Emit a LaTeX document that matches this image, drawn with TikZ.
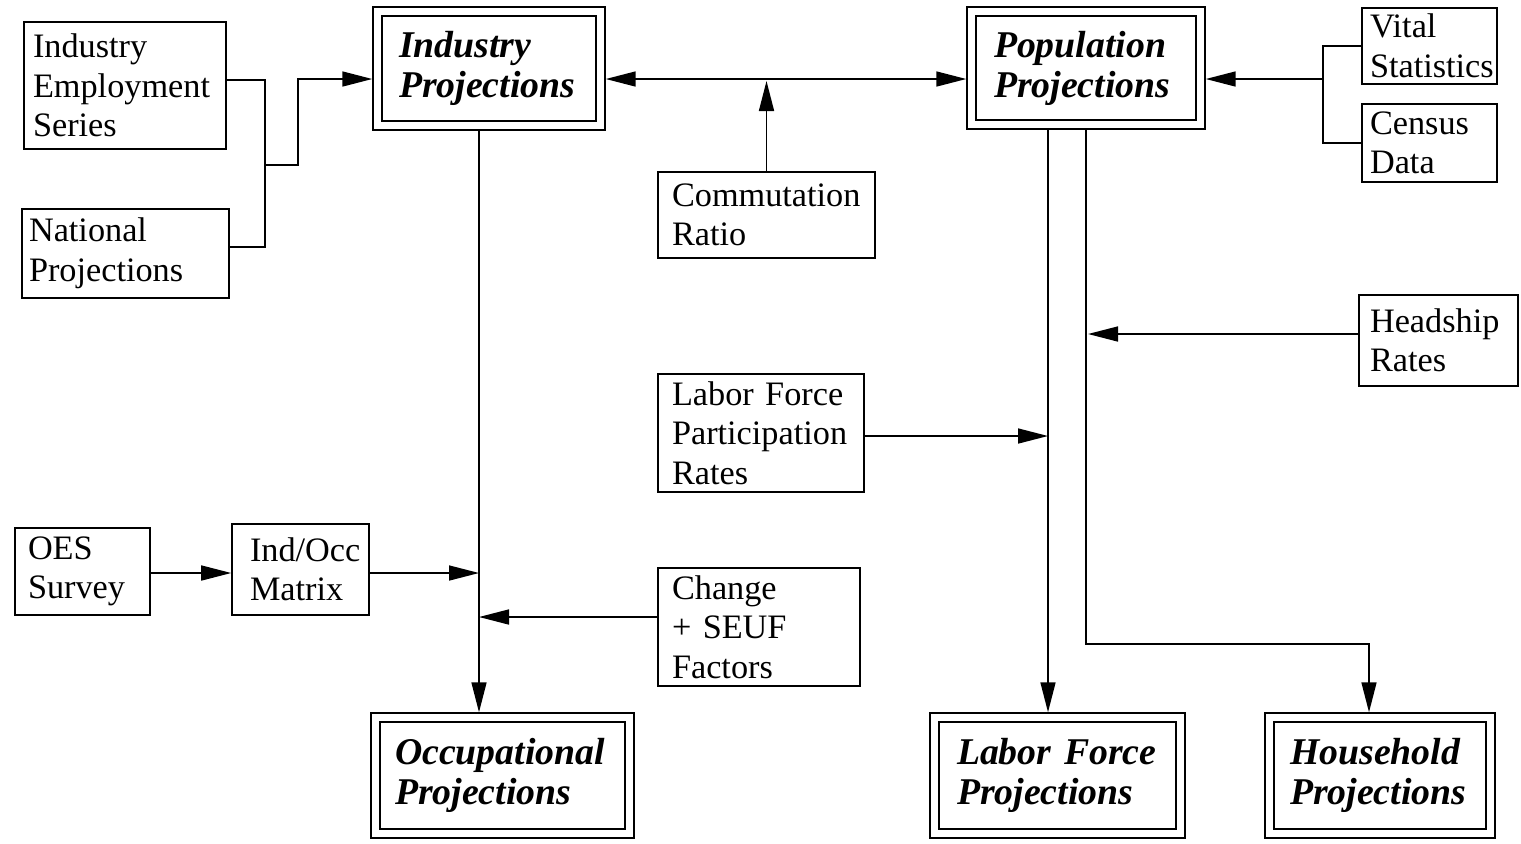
\documentclass[tikz,border=0pt]{standalone}
\usepackage{fontspec}
\setmainfont{Liberation Serif}
\usetikzlibrary{arrows.meta,calc}
\tikzset{
  lw/.style={line width=0.9pt},
  bx/.style={draw, lw, align=left, inner ysep=0pt, font=\fontsize{19.5}{22.5}\selectfont},
  dbx/.style={draw, lw, double, double distance=0.15cm, align=left, inner ysep=0pt, outer sep=0.105cm,
    font=\fontsize{21.5}{22.7}\selectfont\bfseries\itshape},
  arr/.style={lw, -{Triangle[length=0.6cm,width=0.3cm]}},
  arrb/.style={lw, {Triangle[length=0.6cm,width=0.3cm]}-{Triangle[length=0.6cm,width=0.3cm]}},
  ln/.style={lw}
}
\begin{document}
\begin{tikzpicture}[x=0.02cm,y=-0.02cm]
\useasboundingbox (0,0) rectangle (1521,843);
% input boxes
\node[bx, minimum width=4.04cm, minimum height=2.54cm, text width=3.68cm, inner xsep=0.18cm] (ies) at (125,85.5) {Industry\\Employment\\Series};
\node[bx, minimum width=4.14cm, minimum height=1.78cm, text width=3.86cm, inner xsep=0.14cm] (nat) at (125.5,253.5) {National\\Projections};
\node[bx, minimum width=2.70cm, minimum height=1.52cm, text width=2.38cm, inner xsep=0.16cm] (vital) at (1429.5,46) {Vital\\Statistics};
\node[bx, minimum width=2.70cm, minimum height=1.56cm, text width=2.38cm, inner xsep=0.16cm] (census) at (1429.5,143) {Census\\Data};
\node[bx, minimum width=4.34cm, minimum height=1.72cm, text width=3.78cm, inner xsep=0.28cm] (comm) at (766.5,215) {Commutation\\Ratio};
\node[bx, minimum width=3.18cm, minimum height=1.82cm, text width=2.74cm, inner xsep=0.22cm] (head) at (1438.5,340.5) {Headship\\Rates};
\node[bx, minimum width=4.12cm, minimum height=2.36cm, text width=3.56cm, inner xsep=0.28cm] (lfpr) at (761,433) {\mbox{Labor Force}\\Participation\\Rates};
\node[bx, minimum width=2.70cm, minimum height=1.74cm, text width=2.18cm, inner xsep=0.26cm] (oes) at (82.5,571.5) {OES\\Survey};
\node[bx, minimum width=2.74cm, minimum height=1.82cm, text width=2.02cm, inner xsep=0.36cm] (indocc) at (300.5,569.5) {Ind/Occ\\Matrix};
\node[bx, minimum width=4.04cm, minimum height=2.36cm, text width=3.48cm, inner xsep=0.28cm] (chg) at (759,627) {Change\\\mbox{+ SEUF}\\Factors};
% projection boxes
\node[dbx, minimum width=4.46cm, minimum height=2.28cm, text width=3.60cm, inner xsep=0.43cm] (indp) at (489,68.5) {Industry\\Projections};
\node[dbx, minimum width=4.58cm, minimum height=2.26cm, text width=3.68cm, inner xsep=0.45cm] (popp) at (1086,68) {Population\\Projections};
\node[dbx, minimum width=5.08cm, minimum height=2.32cm, text width=4.30cm, inner xsep=0.39cm] (occ) at (502.5,775.5) {Occupational\\Projections};
\node[dbx, minimum width=4.92cm, minimum height=2.32cm, text width=4.02cm, inner xsep=0.45cm] (lfp) at (1057.5,775.5) {\mbox{Labor Force}\\Projections};
\node[dbx, minimum width=4.42cm, minimum height=2.32cm, text width=3.60cm, inner xsep=0.41cm] (hhp) at (1380,775.5) {Household\\Projections};
% helper coordinates
\coordinate (jl) at (265,165);
\coordinate (jl2) at (298,165);
\coordinate (jr) at (1323,79);
\coordinate (cx) at (479,0);
\coordinate (m1) at (479,573);
\coordinate (m2) at (479,617);
\coordinate (pa) at (1048,0);
\coordinate (pb) at (1086,0);
\coordinate (jh) at (1369,644);
\coordinate (hd) at (1088,334);
\coordinate (lf) at (1048,436);
% connectors
\draw[ln] (ies.east|-0,80) -| (jl) |- (nat.east|-0,247);
\draw[arr] (jl) -- (jl2) |- (indp.west|-0,79);
\draw[arrb] (indp.east|-0,79) -- (popp.west|-0,79);
\draw[arr] (comm.north) -- (comm.north|-0,81);
\draw[ln] (vital.west) -| (jr) |- (census.west);
\draw[arr] (jr) -- (popp.east|-jr);
\draw[arr] (indp.south-|cx) -- (occ.north-|cx);
\draw[arr] (oes.east|-0,573) -- (indocc.west|-0,573);
\draw[arr] (indocc.east|-m1) -- (m1);
\draw[arr] (chg.west|-m2) -- (m2);
\draw[arr] (popp.south-|pa) -- (lfp.north-|pa);
\draw[arr] (popp.south-|pb) |- (jh) -- (hhp.north-|jh);
\draw[arr] (head.west|-hd) -- (hd);
\draw[arr] (lfpr.east|-lf) -- (lf);
\end{tikzpicture}
\end{document}
